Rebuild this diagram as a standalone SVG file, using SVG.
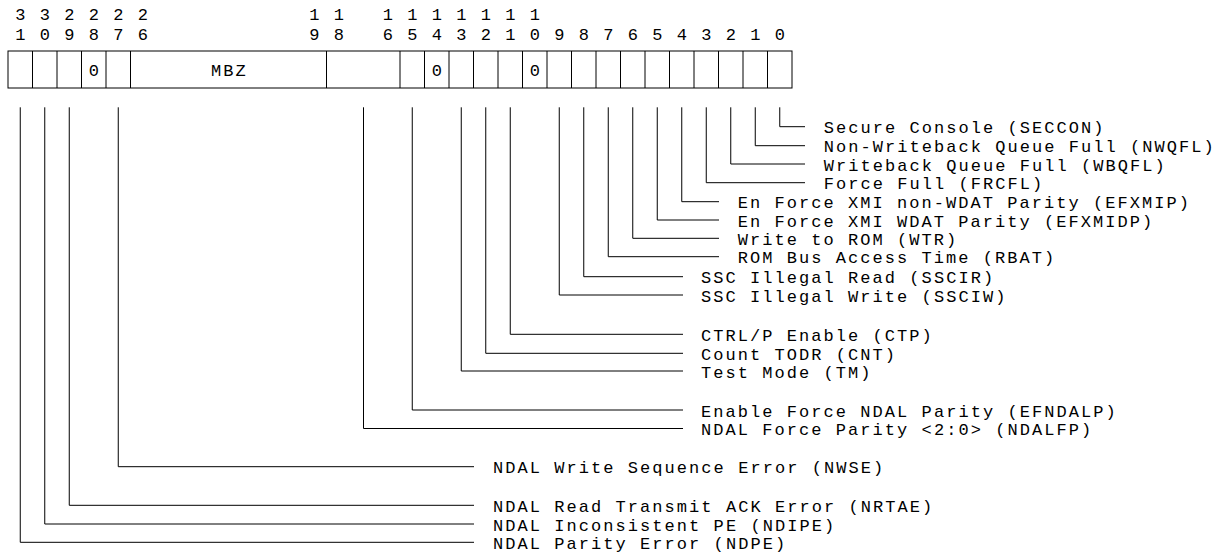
<svg xmlns="http://www.w3.org/2000/svg" width="1227" height="555" viewBox="0 0 1227 555">
<style>
text{font-family:"Liberation Mono","DejaVu Sans Mono",monospace;font-size:17px;fill:#000}
.lbl{letter-spacing:2.05px}
.mid{text-anchor:middle}
.cell{fill:#fff;stroke:#000;stroke-width:1}
.div{stroke:#000;stroke-width:1}
.con{fill:none;stroke:#000;stroke-width:1}
</style>
<rect width="1227" height="555" fill="#fff"/>
<g id="bit-numbers">
<text class="mid" x="20.25 44.75 69.25 93.75 118.25 142.75 314.25 338.75 387.75 412.25 436.75 461.25 485.75 510.25 534.75" y="19.5">332222111111111</text>
<text class="mid" x="20.25 44.75 69.25 93.75 118.25 142.75 314.25 338.75 387.75 412.25 436.75 461.25 485.75 510.25 534.75 559.25 583.75 608.25 632.75 657.25 681.75 706.25 730.75 755.25 779.75" y="40">1098769865432109876543210</text>
</g>
<g id="register">
<rect class="cell" x="8" y="51" width="784" height="37"/>
<path class="div" d="M32.5 51V88M57 51V88M81.5 51V88M106 51V88M130.5 51V88M326.5 51V88M400 51V88M424.5 51V88M449 51V88M473.5 51V88M498 51V88M522.5 51V88M547 51V88M571.5 51V88M596 51V88M620.5 51V88M645 51V88M669.5 51V88M694 51V88M718.5 51V88M743 51V88M767.5 51V88"/>
<text class="mid" x="93.75" y="76">0</text>
<text class="mid lbl" x="229.5" y="76">MBZ</text>
<text class="mid" x="436.75" y="76">0</text>
<text class="mid" x="534.75" y="76">0</text>
</g>
<g id="connectors">
<path class="con" d="M779.75 107.3V126.7H805"/>
<path class="con" d="M755.25 107.3V145.7H805"/>
<path class="con" d="M730.75 107.3V164H805"/>
<path class="con" d="M706.25 107.3V182.7H805"/>
<path class="con" d="M681.75 107.3V201.7H719"/>
<path class="con" d="M657.25 107.3V220H719"/>
<path class="con" d="M632.75 107.3V238.3H719"/>
<path class="con" d="M608.25 107.3V256.7H719"/>
<path class="con" d="M583.75 107.3V276.7H683"/>
<path class="con" d="M559.25 107.3V295H683"/>
<path class="con" d="M510.25 107.3V334.3H683"/>
<path class="con" d="M485.75 107.3V353.3H683"/>
<path class="con" d="M461.25 107.3V371H683"/>
<path class="con" d="M412.25 107.3V410H683"/>
<path class="con" d="M363.5 107.3V428.5H683"/>
<path class="con" d="M118.25 107.3V466.7H474"/>
<path class="con" d="M69.25 107.3V505.3H474"/>
<path class="con" d="M44.75 107.3V524H474"/>
<path class="con" d="M20.25 107.3V542.3H474"/>
</g>
<g id="labels">
<g id="seccon"><text class="lbl" x="823.8" y="133.2">Secure Console (SECCON)</text></g>
<g id="nwqfl"><text class="lbl" x="823.8" y="152.2">Non-Writeback Queue Full (NWQFL)</text></g>
<g id="wbqfl"><text class="lbl" x="823.8" y="170.5">Writeback Queue Full (WBQFL)</text></g>
<g id="frcfl"><text class="lbl" x="823.8" y="189.2">Force Full (FRCFL)</text></g>
<g id="efxmip"><text class="lbl" x="737.8" y="208.2">En Force XMI non-WDAT Parity (EFXMIP)</text></g>
<g id="efxmidp"><text class="lbl" x="737.8" y="226.5">En Force XMI WDAT Parity (EFXMIDP)</text></g>
<g id="wtr"><text class="lbl" x="737.8" y="244.8">Write to ROM (WTR)</text></g>
<g id="rbat"><text class="lbl" x="737.8" y="263.2">ROM Bus Access Time (RBAT)</text></g>
<g id="sscir"><text class="lbl" x="701.1" y="283.2">SSC Illegal Read (SSCIR)</text></g>
<g id="ssciw"><text class="lbl" x="701.1" y="301.5">SSC Illegal Write (SSCIW)</text></g>
<g id="ctp"><text class="lbl" x="701.1" y="340.8">CTRL/P Enable (CTP)</text></g>
<g id="cnt"><text class="lbl" x="701.1" y="359.8">Count TODR (CNT)</text></g>
<g id="tm"><text class="lbl" x="701.1" y="377.5">Test Mode (TM)</text></g>
<g id="efndalp"><text class="lbl" x="701.1" y="416.5">Enable Force NDAL Parity (EFNDALP)</text></g>
<g id="ndalfp"><text class="lbl" x="701.1" y="435">NDAL Force Parity &lt;2:0&gt; (NDALFP)</text></g>
<g id="nwse"><text class="lbl" x="493.1" y="473.2">NDAL Write Sequence Error (NWSE)</text></g>
<g id="nrtae"><text class="lbl" x="493.1" y="511.8">NDAL Read Transmit ACK Error (NRTAE)</text></g>
<g id="ndipe"><text class="lbl" x="493.1" y="530.5">NDAL Inconsistent PE (NDIPE)</text></g>
<g id="ndpe"><text class="lbl" x="493.1" y="548.8">NDAL Parity Error (NDPE)</text></g>
</g>
</svg>
